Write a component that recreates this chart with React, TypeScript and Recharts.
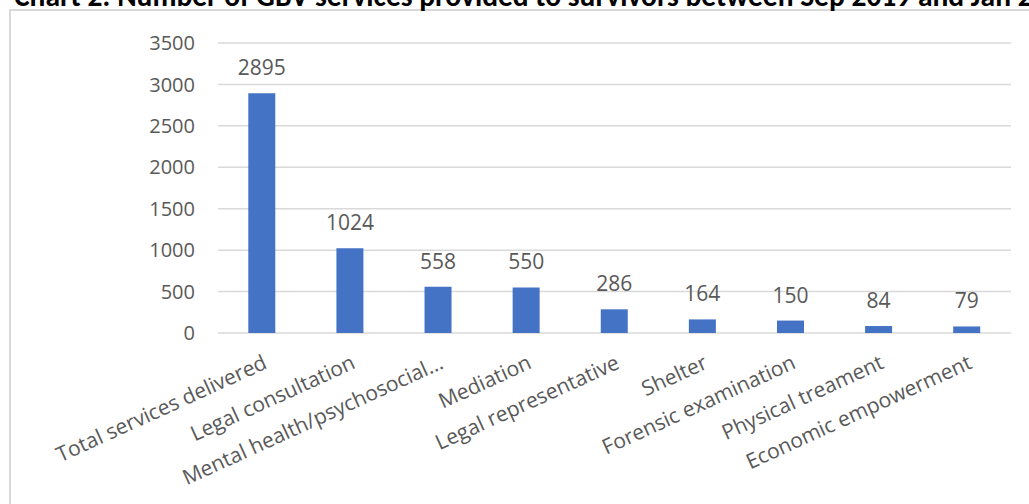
import React from "react";
import { BarChart, Bar, XAxis, YAxis, CartesianGrid, LabelList } from "recharts";

const categories = [
  "Total services delivered",
  "Legal consultation",
  "Mental health/psychosocial…",
  "Mediation",
  "Legal representative",
  "Shelter",
  "Forensic examination",
  "Physical treament",
  "Economic empowerment",
];
const values = [2895, 1024, 558, 550, 286, 164, 150, 84, 79];
const yTicks = [0, 500, 1000, 1500, 2000, 2500, 3000, 3500];
const edgeTicks = [0, 1, 2, 3, 4, 5, 6, 7, 8, 9];
const title =
  "Chart 2: Number of GBV services provided to survivors between Sep 2019 and Jan 2020";

const data = categories.map((name, i) => ({ name, value: values[i] }));

const FONT = "'Open Sans', 'DejaVu Sans', sans-serif";
const TEXT = "#595959";
const GRID = "#d9d9d9";

const CatTick = (props: any) => {
  const { x, y, payload } = props;
  return (
    <g transform={`translate(${x},${y + 21})`}>
      <text
        x={0}
        y={0}
        dy="0.72em"
        textAnchor="end"
        transform="rotate(-24.5)"
        fontSize={21}
        fill={TEXT}
        fontFamily={FONT}
      >
        {payload.value}
      </text>
    </g>
  );
};

export default function App() {
  return (
    <div
      style={{
        position: "fixed",
        left: 0,
        top: 0,
        width: 1029,
        height: 504,
        overflow: "hidden",
        background: "#fff",
      }}
    >
      <div
        style={{
          position: "absolute",
          left: 9,
          top: 9,
          width: 2000,
          height: 1000,
          border: `2px solid ${GRID}`,
          boxSizing: "border-box",
        }}
      />
      <svg
        width={1029}
        height={20}
        style={{ position: "absolute", left: 0, top: 0 }}
      >
        <text
          x={14}
          y={5.5}
          fontFamily="Carlito, Calibri, 'Open Sans', sans-serif"
          fontWeight="bold"
          fontSize={29.5}
          fill="#000"
        >
          {title}
        </text>
      </svg>
      <div style={{ position: "absolute", left: 0, top: 0 }}>
        <BarChart
          width={1029}
          height={504}
          data={data}
          margin={{ top: 43, right: 18, bottom: 21, left: 0 }}
          barCategoryGap="34.4%"
        >
          <CartesianGrid
            vertical={false}
            stroke={GRID}
            strokeWidth={1.5}
          />
          <XAxis
            xAxisId="edges"
            type="number"
            dataKey={() => 0}
            domain={[0, 9]}
            ticks={edgeTicks}
            height={0}
            tickSize={7}
            tickLine={{ stroke: GRID, strokeWidth: 1.5 }}
            axisLine={{ stroke: GRID, strokeWidth: 1.5 }}
            tickFormatter={() => ""}
            allowDataOverflow
          />
          <XAxis
            xAxisId="cat"
            dataKey="name"
            type="category"
            height={150}
            interval={0}
            axisLine={false}
            tickLine={false}
            tickSize={0}
            tickMargin={0}
            tick={<CatTick />}
          />
          <YAxis
            domain={[0, 3500]}
            ticks={yTicks}
            axisLine={false}
            tickLine={false}
            tickSize={0}
            tickMargin={23}
            width={218}
            tick={{ fontSize: 20, fill: TEXT, fontFamily: FONT }}
          />
          <Bar
            xAxisId="cat"
            dataKey="value"
            fill="#4472C4"
            isAnimationActive={false}
          >
            <LabelList
              dataKey="value"
              position="top"
              offset={18}
              fontSize={21}
              fill={TEXT}
              fontFamily={FONT}
            />
          </Bar>
        </BarChart>
      </div>
    </div>
  );
}
